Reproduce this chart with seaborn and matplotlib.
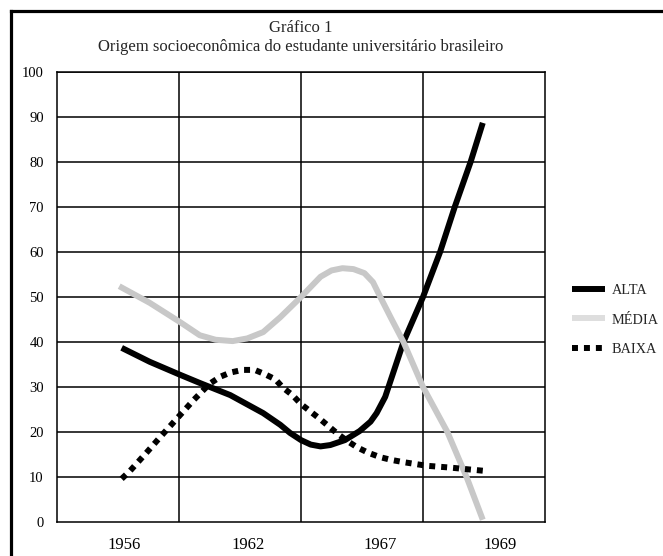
import numpy as np
import pandas as pd
import seaborn as sns
import matplotlib.pyplot as plt
from matplotlib.lines import Line2D

# categories on the x axis (one per column of the grid)
years = ["1956", "1962", "1967", "1969"]

# curves: position along the category axis (0 = 1956 ... 3 = 1969), value in %
alta_pos = [0.03, 0.26, 0.51, 0.67, 0.92, 1.19, 1.33, 1.41, 1.50, 1.58, 1.66, 1.74, 1.86, 1.98,
            2.07, 2.12, 2.19, 2.34, 2.50, 2.64, 2.76, 2.89, 2.99]
alta_val = [38.7, 35.6, 32.7, 30.9, 28.2, 24.2, 21.6, 19.8, 18.2, 17.2, 16.8, 17.1, 18.2, 20.2,
            22.3, 24.2, 27.8, 40.0, 50.0, 60.0, 70.0, 80.0, 88.7]

media_pos = [0.01, 0.26, 0.51, 0.67, 0.80, 0.94, 1.06, 1.19, 1.33, 1.50, 1.66, 1.75, 1.84,
             1.93, 2.02, 2.09, 2.15, 2.24, 2.34, 2.50, 2.70, 2.86, 2.99]
media_val = [52.4, 48.7, 44.4, 41.5, 40.5, 40.2, 40.8, 42.2, 45.5, 50.0, 54.5, 55.9, 56.4,
             56.2, 55.3, 53.3, 50.0, 45.2, 40.0, 30.0, 20.0, 9.8, 0.5]

baixa_pos = [0.03, 0.10, 0.23, 0.36, 0.49, 0.62, 0.75, 0.84, 0.92, 1.02, 1.12, 1.20, 1.29,
             1.35, 1.43, 1.50, 1.58, 1.66, 1.73, 1.80, 1.88, 1.96, 2.05, 2.15, 2.24, 2.34,
             2.53, 2.72, 2.91, 2.99]
baixa_val = [9.6, 11.4, 15.3, 19.3, 23.2, 27.1, 30.7, 32.3, 33.2, 33.8, 33.8, 32.9, 31.7,
             29.9, 28.2, 26.2, 24.5, 22.8, 21.2, 19.6, 18.0, 16.6, 15.4, 14.4, 13.8, 13.3,
             12.5, 12.1, 11.6, 11.4]

series = ["ALTA", "MÉDIA", "BAIXA"]

df = pd.concat([
    pd.DataFrame({"pos": alta_pos, "valor": alta_val, "origem": "ALTA"}),
    pd.DataFrame({"pos": media_pos, "valor": media_val, "origem": "MÉDIA"}),
    pd.DataFrame({"pos": baixa_pos, "valor": baixa_val, "origem": "BAIXA"}),
])

sns.set_theme(style="white")
plt.rcParams["font.family"] = ["Liberation Serif", "DejaVu Serif"]

W, H = 663, 556
fig = plt.figure(figsize=(W / 100, H / 100), dpi=100)
ax = fig.add_axes([57 / W, 1 - 522 / H, (545 - 57) / W, (522 - 72) / H])

lw = 4.3
styles = {
    "ALTA": dict(color="black", linestyle="-", solid_capstyle="butt", solid_joinstyle="round"),
    "MÉDIA": dict(color="#c8c8c8", linestyle="-", solid_capstyle="butt", solid_joinstyle="round"),
    "BAIXA": dict(color="black", linestyle=(0, (1, 1)), dash_capstyle="butt"),
}

# grid first so the curves sit on top
ax.set_xlim(-0.5, 3.5)
ax.set_ylim(0, 100)
for y in range(10, 101, 10):
    ax.axhline(y, color="black", lw=1.1, zorder=1)
for x in [0.5, 1.5, 2.5]:
    ax.axvline(x, color="black", lw=1.1, zorder=1)

for name in series:
    sub = df[df["origem"] == name]
    sns.lineplot(data=sub, x="pos", y="valor", ax=ax, estimator=None, sort=False,
                 lw=lw, legend=False, zorder=3, **styles[name])

for s in ax.spines.values():
    s.set_visible(True)
    s.set_color("black")
    s.set_linewidth(1.1)

ax.set_xlabel("")
ax.set_ylabel("")
ax.set_yticks(range(0, 101, 10))
ax.set_yticklabels([str(v) for v in range(0, 101, 10)])
ax.set_xticks([i + d for i, d in enumerate([0.05, 0.07, 0.15, 0.13])])
ax.set_xticklabels(years)
ax.tick_params(axis="y", length=0, pad=9.5, labelsize=10.5, colors="black")
ax.tick_params(axis="x", length=0, pad=11, labelsize=12, colors="black")

fig.text(301 / W, 1 - 28 / H, "Gráfico 1", ha="center", va="center", fontsize=12)
fig.text(301 / W, 1 - 47 / H, "Origem socioeconômica do estudante universitário brasileiro",
         ha="center", va="center", fontsize=12)

handles = [
    Line2D([], [], lw=lw, **styles["ALTA"]),
    Line2D([], [], lw=lw, color="#dedede", solid_capstyle="butt"),
    Line2D([], [], lw=lw, **styles["BAIXA"]),
]
fig.legend(handles, series, loc="center left", bbox_to_anchor=(572 / W, 1 - 320 / H),
           bbox_transform=fig.transFigure, frameon=False, borderpad=0, borderaxespad=0,
           handlelength=2.3, handletextpad=0.5, labelspacing=1.15, fontsize=10.3)

# outer frame (left and top edges)
fig.add_artist(Line2D([10.5 / W, 10.5 / W], [0, 1 - 10.5 / H], color="black", lw=2.3,
                      transform=fig.transFigure, solid_capstyle="projecting"))
fig.add_artist(Line2D([10.5 / W, 1], [1 - 10.5 / H, 1 - 10.5 / H], color="black", lw=2.3,
                      transform=fig.transFigure, solid_capstyle="projecting"))

fig.savefig("out.png", dpi=100)
